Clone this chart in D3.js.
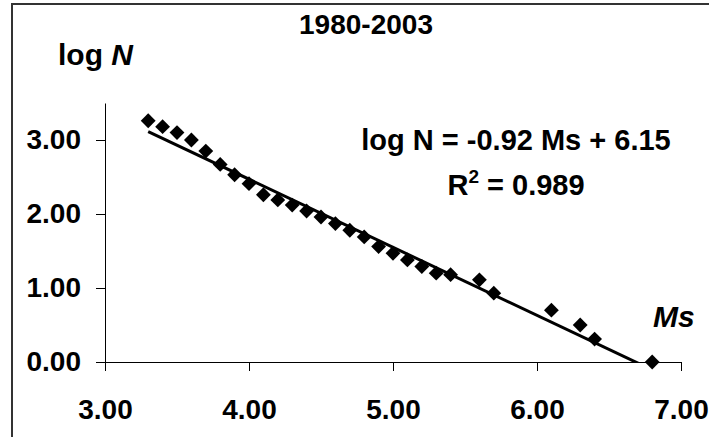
<!DOCTYPE html>
<html>
<head>
<meta charset="utf-8">
<script src="https://cdn.jsdelivr.net/npm/d3@7"></script>
<style>
  body { margin: 0; background: #fff; }
  text { font-family: "Liberation Sans", Arial, sans-serif; font-weight: bold; fill: #000; }
</style>
</head>
<body>
<svg id="chart" width="709" height="437"></svg>
<script>
// magnitude Ms vs log of cumulative count
const ms = [3.3, 3.4, 3.5, 3.6, 3.7, 3.8, 3.9, 4.0, 4.1, 4.2, 4.3, 4.4, 4.5, 4.6,
            4.7, 4.8, 4.9, 5.0, 5.1, 5.2, 5.3, 5.4, 5.6, 5.7, 6.1, 6.3, 6.4, 6.8];
const logN = [3.26, 3.18, 3.10, 3.00, 2.85, 2.67, 2.53, 2.41, 2.26, 2.19, 2.12, 2.04, 1.96, 1.87,
              1.78, 1.69, 1.56, 1.47, 1.38, 1.29, 1.20, 1.18, 1.11, 0.93, 0.70, 0.50, 0.31, 0.00];
const xTicks = [3, 4, 5, 6, 7];
const yTicks = [0, 1, 2, 3];
const slope = -0.92, intercept = 6.15;

const svg = d3.select("#chart");
const PLOT = { left: 105, right: 681, top: 103, bottom: 362 };

// outer chart border (runs off the right and bottom edges)
svg.append("rect")
    .attr("x", 12).attr("y", 4)
    .attr("width", 720).attr("height", 460)
    .attr("fill", "none")
    .attr("stroke", "#333")
    .attr("stroke-width", 2);

const xscale = d3.scaleLinear().domain([3, 7]).range([PLOT.left, PLOT.right]);
const yscale = d3.scaleLinear().domain([0, 3.5]).range([PLOT.bottom, PLOT.top]);

const xaxis = d3.axisBottom(xscale).tickValues(xTicks).tickFormat(d3.format(".2f"))
    .tickSize(9).tickSizeOuter(0).tickPadding(28);
const yaxis = d3.axisLeft(yscale).tickValues(yTicks).tickFormat(d3.format(".2f"))
    .tickSize(9).tickSizeOuter(0).tickPadding(15);

const gx = svg.append("g").attr("transform", `translate(0,${PLOT.bottom})`).call(xaxis);
const gy = svg.append("g").attr("transform", `translate(${PLOT.left},0)`).call(yaxis);
[gx, gy].forEach(g => {
    g.selectAll("path, line").attr("stroke", "#000").attr("stroke-width", 1);
    g.selectAll("text")
        .attr("fill", "#000")
        .style("font-size", "28px")
        .style("font-family", '"Liberation Sans", Arial, sans-serif')
        .style("font-weight", "bold");
});

svg.append("clipPath").attr("id", "plotclip")
    .append("rect")
    .attr("x", PLOT.left).attr("y", PLOT.top)
    .attr("width", PLOT.right - PLOT.left).attr("height", PLOT.bottom - PLOT.top);

// linear trendline
const x0 = d3.min(ms), x1 = d3.max(ms);
svg.append("line")
    .attr("clip-path", "url(#plotclip)")
    .attr("x1", xscale(x0)).attr("y1", yscale(slope * x0 + intercept))
    .attr("x2", xscale(x1)).attr("y2", yscale(slope * x1 + intercept))
    .attr("stroke", "#000")
    .attr("stroke-width", 3);

// diamond markers
const diamond = d3.symbol().type(d3.symbolSquare).size(110);
svg.append("g").selectAll("path")
    .data(ms.map((m, i) => ({ x: m, y: logN[i] })))
    .join("path")
    .attr("d", diamond)
    .attr("transform", d => `translate(${xscale(d.x)},${yscale(d.y)}) rotate(45)`)
    .attr("fill", "#000");

svg.append("text")
    .attr("x", 366).attr("y", 34)
    .attr("text-anchor", "middle")
    .style("font-size", "28px")
    .text("1980-2003");

const ylab = svg.append("text")
    .attr("x", 58).attr("y", 65)
    .style("font-size", "30px");
ylab.append("tspan").text("log ");
ylab.append("tspan").style("font-style", "italic").text("N");

svg.append("text")
    .attr("x", 653).attr("y", 327)
    .style("font-size", "30px")
    .style("font-style", "italic")
    .text("Ms");

svg.append("text")
    .attr("x", 516).attr("y", 150)
    .attr("text-anchor", "middle")
    .style("font-size", "29px")
    .text("log N = -0.92 Ms + 6.15");

const r2 = svg.append("text")
    .attr("x", 516).attr("y", 195)
    .attr("text-anchor", "middle")
    .style("font-size", "29px");
r2.append("tspan").text("R");
r2.append("tspan").attr("dy", -12).style("font-size", "19px").text("2");
r2.append("tspan").attr("dy", 12).text(" = 0.989");
</script>
</body>
</html>
